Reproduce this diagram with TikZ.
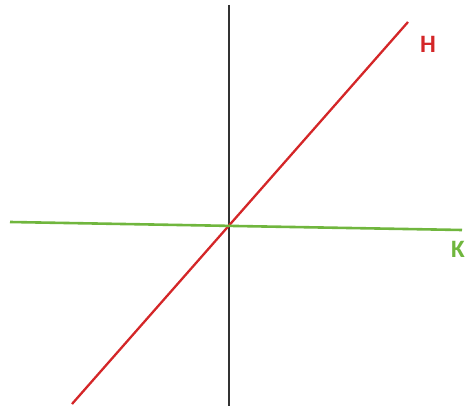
\documentclass[tikz,border=0pt]{standalone}
\usepackage{fontspec}
\setsansfont{Carlito}
\usepackage{xcolor}
\usetikzlibrary{positioning}
\definecolor{lineH}{RGB}{212,38,40}
\definecolor{lineK}{RGB}{112,182,62}
\tikzset{
    axis/.style={line width=2.3pt, draw=black!80},
    planeH/.style={line width=2.3pt, draw=lineH},
    planeK/.style={line width=2.6pt, draw=lineK},
    tag/.style={font=\sffamily\bfseries\fontsize{25}{25}\selectfont, inner sep=0pt}
}
\begin{document}
\begin{tikzpicture}[x=1pt, y=-1pt]
        % Canvas
        \useasboundingbox (0,0) rectangle (468,406);

        % End points of the three lines
        \coordinate (Vtop) at (229,5);
        \coordinate (Vbot) at (229,406);
        \coordinate (Hbot) at (72,404);
        \coordinate (Htop) at (408,22);
        \coordinate (Kleft) at (10,222);
        \coordinate (Kright) at (462,230);

        % Vertical axis
        \draw[axis] (Vtop) -- (Vbot);

        % Line H and line K
        \draw[planeH] (Hbot) -- (Htop);
        \draw[planeK] (Kleft) -- (Kright);

        % Labels
        \node[tag, color=lineH] (labH) at (428,44) {H};
        \node[tag, color=lineK] (labK) at (458,249) {K};
    \end{tikzpicture}
\end{document}
